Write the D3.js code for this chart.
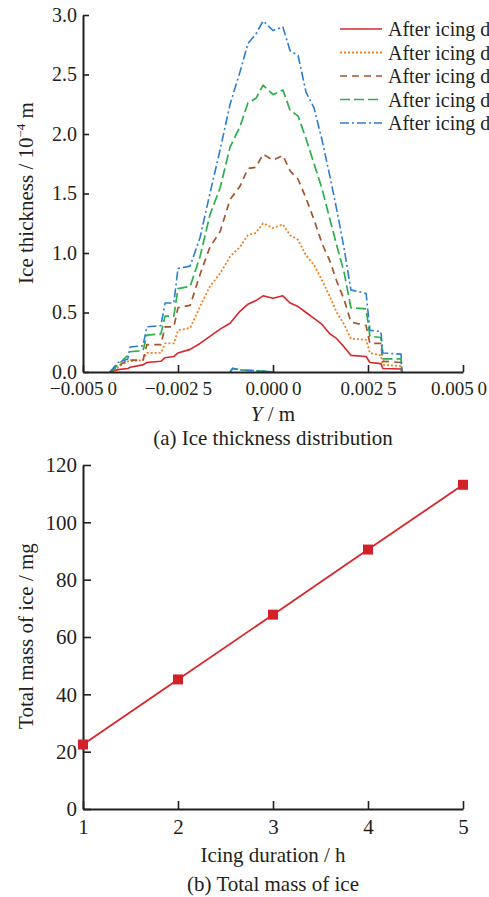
<!DOCTYPE html>
<html>
<head>
<meta charset="utf-8">
<script src="https://cdn.jsdelivr.net/npm/d3@7/dist/d3.min.js"></script>
<style>
  html, body { margin: 0; padding: 0; background: #fff; }
  svg { display: block; font-family: "Liberation Serif", "Times New Roman", serif; }
  .axis path, .axis line { stroke: #231f20; }
  .axis path { stroke-width: 2; }
  .axis line { stroke-width: 1.6; }
  .axis text { fill: #231f20; font-size: 20px; font-family: "Liberation Serif", serif; }
</style>
</head>
<body>
<svg id="chart" width="489" height="897"></svg>
<script>
// ---- (a) ice thickness distribution: spanwise position Y (m) ----
const thicknessY = [
  -0.00429, -0.00408, -0.00382, -0.00376, -0.00342, -0.00332, -0.00295, -0.00284,
  -0.00261, -0.00250, -0.00218, -0.00192, -0.00166, -0.00139, -0.00113, -0.00087,
  -0.00066, -0.00045, -0.00026, 0.00000, 0.00026, 0.00045, 0.00066, 0.00087,
  0.00108, 0.00129, 0.00150, 0.00168, 0.00187, 0.00205, 0.00245, 0.00255,
  0.00284, 0.00289, 0.00337, 0.00339
];
// ice thickness (10^-4 m) after each icing duration
const thick1h = [
  0, 0.02, 0.03, 0.04, 0.06, 0.08, 0.09, 0.12, 0.13, 0.16, 0.19, 0.24,
  0.30, 0.36, 0.41, 0.51, 0.57, 0.60, 0.64, 0.62, 0.64, 0.58, 0.55, 0.50,
  0.45, 0.40, 0.32, 0.28, 0.21, 0.14, 0.13, 0.08, 0.07, 0.03, 0.025, 0
];
const thick2h = [
  0, 0.04, 0.09, 0.09, 0.10, 0.16, 0.16, 0.24, 0.24, 0.35, 0.37, 0.55,
  0.72, 0.83, 0.97, 1.05, 1.15, 1.17, 1.25, 1.21, 1.24, 1.15, 1.11, 0.98,
  0.90, 0.77, 0.63, 0.50, 0.40, 0.28, 0.27, 0.16, 0.14, 0.06, 0.05, 0
];
const thick3h = [
  0, 0.05, 0.10, 0.10, 0.10, 0.23, 0.23, 0.38, 0.38, 0.54, 0.56, 0.82,
  1.05, 1.18, 1.45, 1.56, 1.71, 1.72, 1.83, 1.78, 1.82, 1.69, 1.62, 1.46,
  1.28, 1.08, 0.93, 0.76, 0.61, 0.42, 0.39, 0.24, 0.24, 0.09, 0.08, 0
];
const thick4h = [
  0, 0.06, 0.14, 0.17, 0.18, 0.31, 0.32, 0.47, 0.47, 0.70, 0.72, 0.97,
  1.32, 1.55, 1.89, 2.06, 2.26, 2.30, 2.41, 2.33, 2.37, 2.20, 2.15, 1.96,
  1.75, 1.54, 1.28, 1.06, 0.84, 0.54, 0.53, 0.30, 0.29, 0.11, 0.11, 0
];
const thick5h = [
  0, 0.08, 0.11, 0.21, 0.22, 0.38, 0.39, 0.58, 0.58, 0.87, 0.89, 1.13,
  1.50, 1.87, 2.25, 2.52, 2.76, 2.84, 2.95, 2.87, 2.90, 2.70, 2.66, 2.35,
  2.22, 1.95, 1.64, 1.36, 1.04, 0.69, 0.66, 0.35, 0.34, 0.16, 0.15, 0
];
// thin ice remnant near the stagnation region
const remnantY = [-0.00113, -0.00106, -0.00080, -0.00040, 0.00000];
const remnantThick = [0, 0.03, 0.015, 0.01, 0];

const legendLabels = [
  "After icing duration of 1 h",
  "After icing duration of 2 h",
  "After icing duration of 3 h",
  "After icing duration of 4 h",
  "After icing duration of 5 h"
];
const thicknessXTicks = [-0.005, -0.0025, 0, 0.0025, 0.005];
const thicknessYTicks = [0, 0.5, 1.0, 1.5, 2.0, 2.5, 3.0];

// ---- (b) total mass of ice ----
const durations = [1, 2, 3, 4, 5];
const iceMass = [22.5, 45.2, 67.8, 90.5, 113.1];
const massTicks = [0, 20, 40, 60, 80, 100, 120];

const W = 489;
const svg = d3.select("#chart");

// ================= panel (a) =================
const xA = d3.scaleLinear().domain([-0.005, 0.005]).range([83, 463]);
const yA = d3.scaleLinear().domain([0, 3.0]).range([372, 15]);

const seriesA = [
  { values: thick1h, color: "#d9262b", dash: null, width: 1.6 },
  { values: thick2h, color: "#f4811f", dash: "2,2", width: 1.8 },
  { values: thick3h, color: "#a4552c", dash: "7,5", width: 1.7 },
  { values: thick4h, color: "#2bb04a", dash: "10,4", width: 1.7 },
  { values: thick5h, color: "#2b7ed2", dash: "9,3,2,3", width: 1.6 }
];

const lineA = d3.line()
  .x(d => xA(d[0]))
  .y(d => yA(d[1]));

const gA = svg.append("g");

// remnant segment drawn under the main curves
[seriesA[3], seriesA[4]].forEach(s => {
  gA.append("path")
    .datum(remnantY.map((y, i) => [y, remnantThick[i]]))
    .attr("fill", "none")
    .attr("stroke", s.color)
    .attr("stroke-width", s.width)
    .attr("stroke-dasharray", s.dash)
    .attr("d", lineA);
});

seriesA.forEach(s => {
  gA.append("path")
    .datum(thicknessY.map((y, i) => [y, s.values[i]]))
    .attr("fill", "none")
    .attr("stroke", s.color)
    .attr("stroke-width", s.width)
    .attr("stroke-dasharray", s.dash)
    .attr("stroke-linejoin", "round")
    .attr("d", lineA);
});

const fmtY = v => {
  const s = Math.abs(v).toFixed(4);
  const t = s.slice(0, -1) + "\u2009" + s.slice(-1);
  return (v < 0 ? "\u2212" : "") + t;
};

svg.append("g")
  .attr("class", "axis")
  .attr("transform", "translate(0,372)")
  .call(d3.axisBottom(xA).tickValues(thicknessXTicks).tickFormat(fmtY)
    .tickSizeInner(-7).tickSizeOuter(0).tickPadding(10))
  .call(g => g.selectAll("text").style("font-size", "19px"))
  .call(g => g.selectAll(".tick text").each(function () {
    // keep the outermost label inside the figure edge
    const box = this.getBBox();
    const tx = +this.parentNode.getAttribute("transform").match(/translate\(([-\d.]+)/)[1];
    const overflow = tx + box.x + box.width - (W - 2);
    if (overflow > 0) d3.select(this).attr("x", -overflow);
  }));

svg.append("g")
  .attr("class", "axis")
  .attr("transform", "translate(83,0)")
  .call(d3.axisLeft(yA).tickValues(thicknessYTicks).tickFormat(d3.format(".1f"))
    .tickSizeInner(-6).tickSizeOuter(0).tickPadding(6));

// axis titles and caption (a)
const titleA = svg.append("text")
  .attr("x", 273).attr("y", 421)
  .attr("text-anchor", "middle")
  .style("font-size", "21px").attr("fill", "#231f20");
titleA.append("tspan").style("font-style", "italic").text("Y");
titleA.append("tspan").text(" / m");

svg.append("text")
  .attr("x", 273).attr("y", 445)
  .attr("text-anchor", "middle")
  .style("font-size", "21px").attr("fill", "#231f20")
  .text("(a) Ice thickness distribution");

const yTitleA = svg.append("text")
  .attr("transform", "translate(33,193) rotate(-90)")
  .attr("text-anchor", "middle")
  .style("font-size", "21px").attr("fill", "#231f20");
yTitleA.append("tspan").text("Ice thickness / 10");
yTitleA.append("tspan").attr("dy", -8).style("font-size", "13px").text("\u22124");
yTitleA.append("tspan").attr("dy", 8).text(" m");

// legend
const legend = svg.append("g");
seriesA.forEach((s, i) => {
  const ly = 29 + i * 23.5;
  legend.append("line")
    .attr("x1", 340).attr("x2", 382)
    .attr("y1", ly).attr("y2", ly)
    .attr("stroke", s.color)
    .attr("stroke-width", s.width)
    .attr("stroke-dasharray", s.dash);
  legend.append("text")
    .attr("x", 388).attr("y", ly + 7)
    .style("font-size", "20px").attr("fill", "#231f20")
    .text(legendLabels[i]);
});

// ================= panel (b) =================
const xB = d3.scaleLinear().domain([1, 5]).range([83, 463]);
const yB = d3.scaleLinear().domain([0, 120]).range([809, 465]);

svg.append("g")
  .attr("class", "axis")
  .attr("transform", "translate(0,809)")
  .call(d3.axisBottom(xB).tickValues(durations).tickFormat(d3.format("d"))
    .tickSizeInner(-8).tickSizeOuter(0).tickPadding(10))
  .call(g => g.selectAll("text").style("font-size", "21px"));

svg.append("g")
  .attr("class", "axis")
  .attr("transform", "translate(83,0)")
  .call(d3.axisLeft(yB).tickValues(massTicks).tickFormat(d3.format("d"))
    .tickSizeInner(-8).tickSizeOuter(0).tickPadding(6))
  .call(g => g.selectAll("text").style("font-size", "21px"));

const massData = durations.map((d, i) => [d, iceMass[i]]);
svg.append("path")
  .datum(massData)
  .attr("fill", "none")
  .attr("stroke", "#d9262b")
  .attr("stroke-width", 1.8)
  .attr("d", d3.line().x(d => xB(d[0])).y(d => yB(d[1])));

svg.append("g").selectAll("rect")
  .data(massData)
  .join("rect")
  .attr("x", d => xB(d[0]) - 5)
  .attr("y", d => yB(d[1]) - 5)
  .attr("width", 10).attr("height", 10)
  .attr("fill", "#d3212a");

svg.append("text")
  .attr("x", 273).attr("y", 862)
  .attr("text-anchor", "middle")
  .style("font-size", "21px").attr("fill", "#231f20")
  .text("Icing duration / h");

svg.append("text")
  .attr("x", 273).attr("y", 891)
  .attr("text-anchor", "middle")
  .style("font-size", "21px").attr("fill", "#231f20")
  .text("(b) Total mass of ice");

svg.append("text")
  .attr("transform", "translate(33,636) rotate(-90)")
  .attr("text-anchor", "middle")
  .style("font-size", "21px").attr("fill", "#231f20")
  .text("Total mass of ice / mg");
</script>
</body>
</html>
